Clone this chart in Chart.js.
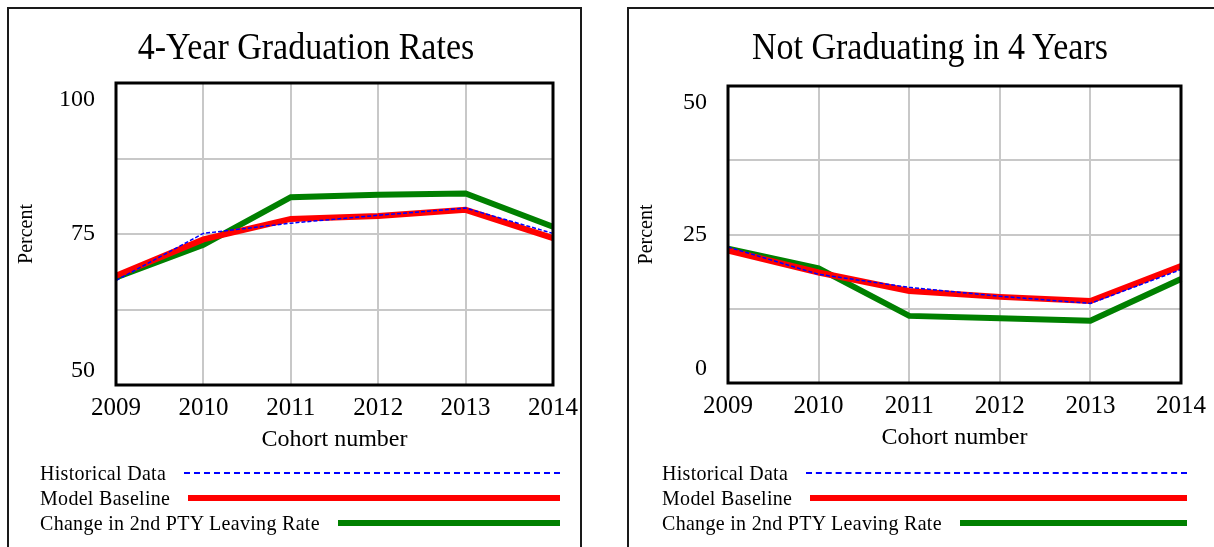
<!DOCTYPE html>
<html>
<head>
<meta charset="utf-8">
<script src="https://cdn.jsdelivr.net/npm/chart.js@4"></script>
<style>
  body { margin: 0; width: 1214px; height: 547px; overflow: hidden; background: #fff;
         font-family: "Liberation Serif", "Times New Roman", serif; position: relative; }
  .panel { position: absolute; top: 7px; height: 600px; border: 2px solid #1a1a1a; box-sizing: border-box; }
  canvas { position: absolute; top: 0; }
  .title { position: absolute; top: 27px; width: 500px; text-align: center; font-size: 34px; line-height: 40px;
           color: #000; transform: scaleY(1.12); }
  .legend { position: absolute; top: 460px; font-size: 20px; letter-spacing: 0.3px; color: #000; }
  .legend .row { display: flex; align-items: center; height: 25px; white-space: nowrap; }
  .legend .row span { display: inline-block; transform: scaleY(1.1); }
  .legend .line { flex: 1; margin-left: 18px; height: 0; }
</style>
</head>
<body>
<div class="panel" style="left:7px; width:575px;"></div>
<div class="panel" style="left:627px; width:620px;"></div>
<canvas id="gradChart" width="600" height="547" style="left:0px"></canvas>
<canvas id="notGradChart" width="600" height="547" style="left:614px"></canvas>
<div class="title" style="left:56px">4-Year Graduation Rates</div>
<div class="title" style="left:680px">Not Graduating in 4 Years</div>
<div class="legend" id="gradLegend" style="left:40px; width:520px;"></div>
<div class="legend" id="notGradLegend" style="left:662px; width:525px;"></div>
<script>
// Data
const years = ['2009', '2010', '2011', '2012', '2013', '2014'];
const seriesLabels = ['Historical Data', 'Model Baseline', 'Change in 2nd PTY Leaving Rate'];

const gradHistorical = [67.3, 75.1, 76.8, 78.1, 79.3, 75.1];
const gradBaseline   = [68.1, 74.1, 77.5, 78.0, 79.0, 74.3];
const gradLeaving    = [67.8, 73.2, 81.1, 81.5, 81.7, 76.2];
const gradTicks = [50, 75, 100];

const notGradHistorical = [22.9, 18.3, 16.1, 14.6, 13.4, 19.1];
const notGradBaseline   = [22.3, 18.6, 15.5, 14.5, 13.8, 19.7];
const notGradLeaving    = [22.6, 19.3, 11.3, 10.9, 10.5, 17.5];
const notGradTicks = [0, 25, 50];

// Styles
const seriesColors = ['#0000ff', '#ff0000', '#008000'];
const seriesWidths = [1.5, 6, 6];
const legendWidths = [2, 6, 6];
const seriesDash = [[4, 2], [], []];
const gridColor = '#c8c8c8';
const fontFamily = '"Liberation Serif", "Times New Roman", serif';

Chart.defaults.font.family = fontFamily;
Chart.defaults.color = '#000';

// draws the y tick labels, nudging the end labels inside the plot frame, plus the frame itself
const frameAndLabels = {
    id: 'frameAndLabels',
    afterDraw(chart, args, opts) {
        const ctx = chart.ctx;
        const area = chart.chartArea;
        const y = chart.scales.y;
        ctx.save();
        ctx.font = '24px ' + fontFamily;
        ctx.fillStyle = '#000';
        ctx.textAlign = 'right';
        ctx.textBaseline = 'middle';
        opts.values.forEach(v => {
            let py = y.getPixelForValue(v);
            py = Math.min(Math.max(py, area.top + 17), area.bottom - 14);
            ctx.fillText(String(v), area.left - 21, py);
        });
        ctx.strokeStyle = '#000';
        ctx.lineWidth = 3;
        ctx.strokeRect(area.left, area.top, area.right - area.left, area.bottom - area.top);
        ctx.restore();
    }
};

function makeChart(id, values, yMin, yMax, tickValues, g) {
    const datasets = values.map((vals, i) => ({
        label: seriesLabels[i],
        data: vals,
        borderColor: seriesColors[i],
        borderWidth: seriesWidths[i],
        borderDash: seriesDash[i],
        pointRadius: 0,
        tension: 0,
        fill: false
    }));
    return new Chart(document.getElementById(id).getContext('2d'), {
        type: 'line',
        data: { labels: years, datasets: datasets },
        plugins: [frameAndLabels],
        options: {
            responsive: false,
            animation: false,
            layout: { padding: { left: 0, top: g.top, right: 600 - g.right, bottom: 547 - g.bottom - 70 } },
            plugins: {
                legend: { display: false },
                tooltip: { enabled: false },
                frameAndLabels: { values: tickValues }
            },
            scales: {
                x: {
                    grid: { color: gridColor, lineWidth: 2, drawTicks: false },
                    border: { display: false },
                    ticks: { font: { size: 25 }, padding: 8, maxRotation: 0, autoSkip: false },
                    title: { display: true, text: 'Cohort number', font: { size: 24 }, padding: { top: 0, bottom: 1 } },
                    afterFit: s => { s.height = 70; }
                },
                y: {
                    min: yMin,
                    max: yMax,
                    grid: { color: gridColor, lineWidth: 2, drawTicks: false },
                    border: { display: false },
                    ticks: { stepSize: 12.5, display: false },
                    title: { display: true, text: 'Percent', font: { size: 20 }, padding: { top: g.percentPad, bottom: 0 } },
                    afterFit: s => { s.width = g.left; }
                }
            }
        }
    });
}

function makeLegend(id) {
    const box = document.getElementById(id);
    seriesLabels.forEach((label, i) => {
        const row = document.createElement('div');
        row.className = 'row';
        const txt = document.createElement('span');
        txt.textContent = label;
        const line = document.createElement('div');
        line.className = 'line';
        line.style.borderTop = legendWidths[i] + 'px ' + (seriesDash[i].length ? 'dashed ' : 'solid ') + seriesColors[i];
        row.appendChild(txt);
        row.appendChild(line);
        box.appendChild(row);
    });
}

makeChart('gradChart', [gradHistorical, gradBaseline, gradLeaving], 50, 100, gradTicks,
    { left: 116, right: 553, top: 83, bottom: 385, percentPad: 15 });
makeChart('notGradChart', [notGradHistorical, notGradBaseline, notGradLeaving], 0, 50, notGradTicks,
    { left: 114, right: 567, top: 86, bottom: 383, percentPad: 21 });
makeLegend('gradLegend');
makeLegend('notGradLegend');
</script>
</body>
</html>
